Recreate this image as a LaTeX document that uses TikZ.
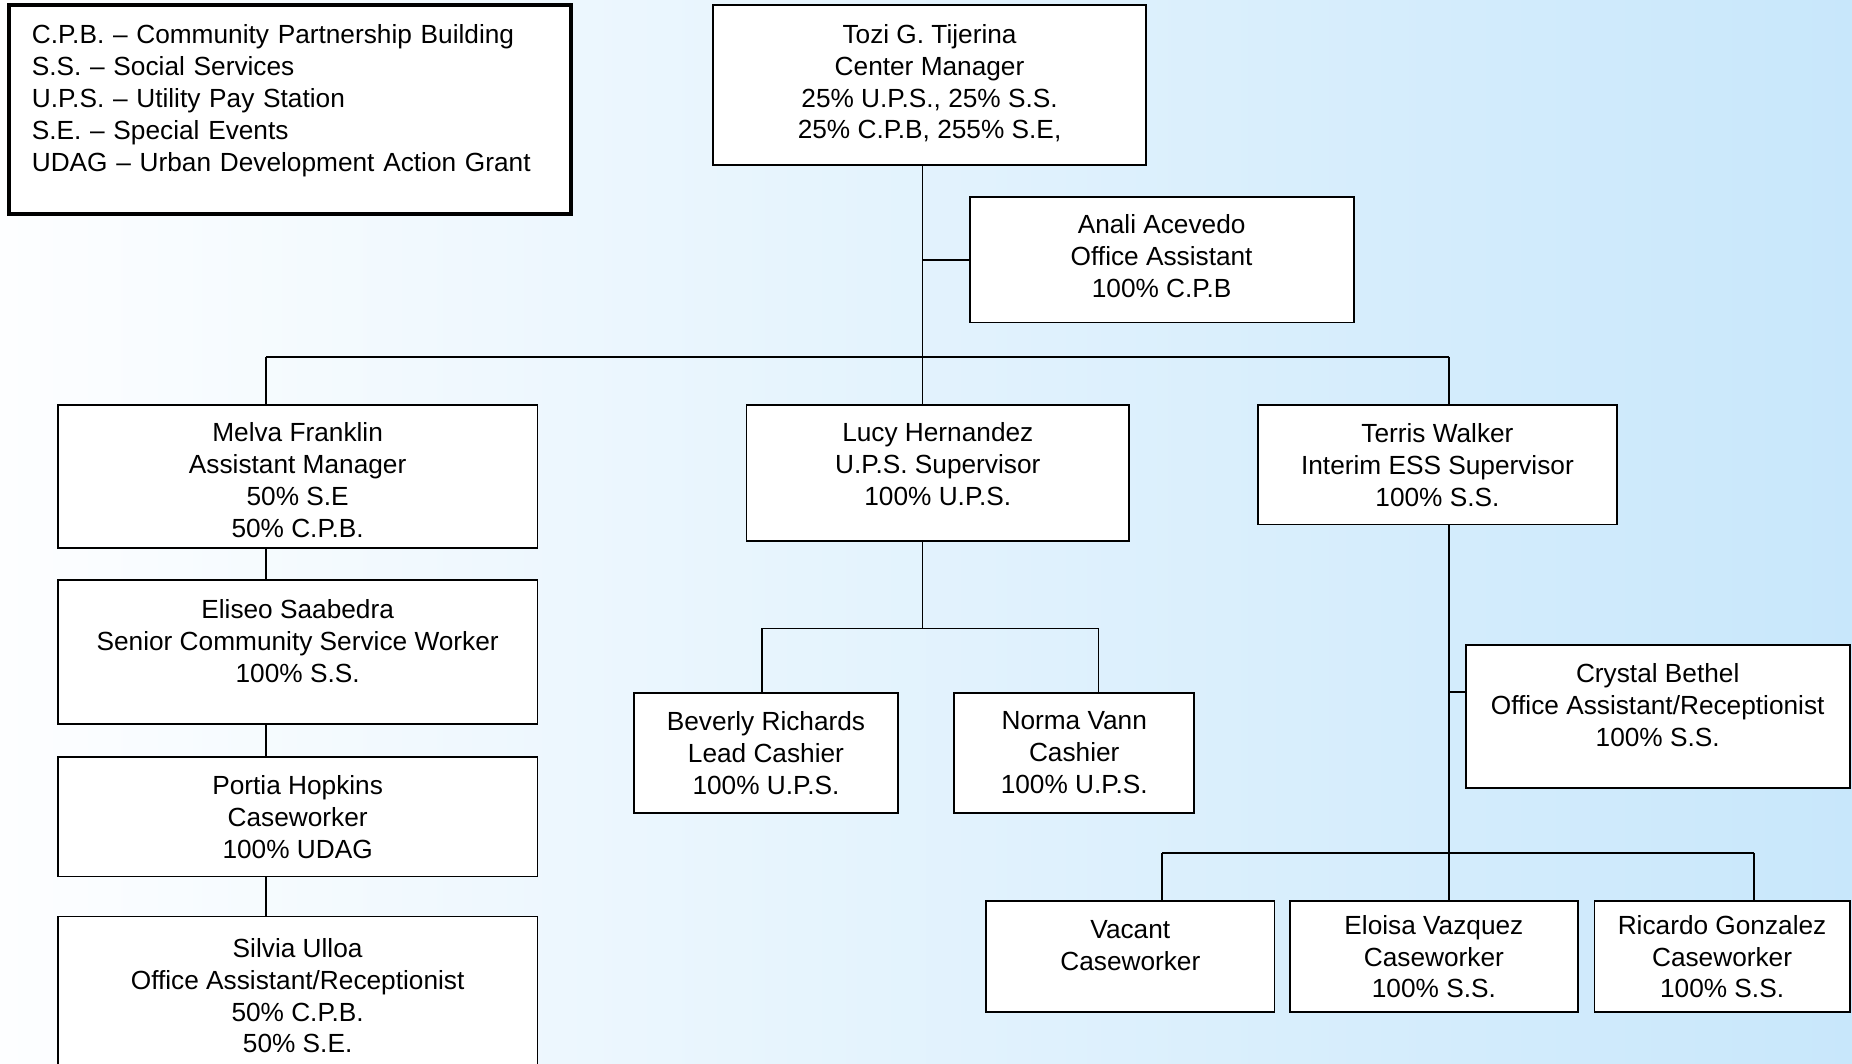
\documentclass[tikz,border=0pt]{standalone}
\usepackage{fontspec}
\setmainfont{Liberation Sans}
\usepackage{tikz}

\begin{document}
\begin{tikzpicture}[
  x=0.025cm, y=-0.025cm,
  box/.style={rectangle, draw, fill=white, line width=1.1pt, inner sep=0pt, align=center, font=\fontsize{15.8}{19.2}\selectfont},
  key/.style={rectangle, draw, fill=white, line width=2.4pt, inner xsep=0.475cm, inner ysep=0pt, align=left, font=\fontsize{15.8}{19.2}\selectfont},
  link/.style={line width=1pt}
]

% Background
\useasboundingbox (0,0) rectangle (1568,900);
\shade[left color={rgb,255:red,253;green,254;blue,255}, right color={rgb,255:red,200;green,231;blue,251}] (0,0) rectangle (1568,900);
\clip (0,0) rectangle (1568,900);

% Legend
\node[key, text width=10.925cm, minimum height=4.425cm] (L) at (245.5,92.5) {C.P.B. -- Community Partnership Building\\S.S. -- Social Services\\U.P.S. -- Utility Pay Station\\S.E. -- Special Events\\UDAG -- Urban Development Action Grant\\[-5.7pt]~};

% Nodes
\node[box, minimum width=9.15cm, minimum height=3.4cm] (TT) at (787,72) {Tozi G. Tijerina\\Center Manager\\25\% U.P.S., 25\% S.S.\\25\% C.P.B, 255\% S.E,\\[-15pt]~};
\node[box, minimum width=8.125cm, minimum height=2.65cm] (AA) at (983.5,220) {Anali Acevedo\\Office Assistant\\100\% C.P.B\\[-15pt]~};

\node[box, minimum width=10.15cm, minimum height=3.025cm] (MF) at (252,403.5) {Melva Franklin\\Assistant Manager\\50\% S.E\\50\% C.P.B.\\[-23pt]~};
\node[box, minimum width=10.15cm, minimum height=3.05cm] (ES) at (252,552) {Eliseo Saabedra\\Senior Community Service Worker\\100\% S.S.\\[-5.7pt]~};
\node[box, minimum width=10.15cm, minimum height=2.525cm] (PH) at (252,691.5) {Portia Hopkins\\Caseworker\\100\% UDAG};
\node[box, minimum width=10.15cm, minimum height=3.35cm] (SU) at (252,843) {Silvia Ulloa\\Office Assistant/Receptionist\\50\% C.P.B.\\50\% S.E.};

\node[box, minimum width=8.1cm, minimum height=2.875cm] (LH) at (794,400.5) {Lucy Hernandez\\U.P.S. Supervisor\\100\% U.P.S.\\[-8.5pt]~};
\node[box, minimum width=5.575cm, minimum height=2.525cm] (BR) at (648.5,637.5) {Beverly Richards\\Lead Cashier\\100\% U.P.S.};
\node[box, minimum width=5.075cm, minimum height=2.525cm] (NV) at (909.5,637.5) {Norma Vann\\Cashier\\100\% U.P.S.};

\node[box, minimum width=7.6cm, minimum height=2.525cm] (TW) at (1217,393.5) {Terris Walker\\Interim ESS Supervisor\\100\% S.S.};
\node[box, minimum width=8.125cm, minimum height=3.025cm] (CB) at (1403.5,606.5) {Crystal Bethel\\Office Assistant/Receptionist\\100\% S.S.\\[-5.7pt]~};
\node[box, minimum width=6.1cm, minimum height=2.35cm] (VC) at (957,810) {Vacant\\Caseworker\\[-5.7pt]~};
\node[box, minimum width=6.1cm, minimum height=2.35cm] (EV) at (1214,810) {Eloisa Vazquez\\Caseworker\\100\% S.S.};
\node[box, minimum width=5.4cm, minimum height=2.35cm] (RG) at (1458,810) {Ricardo Gonzalez\\Caseworker\\100\% S.S.};

% Junctions
\coordinate (busL) at (225,302);
\coordinate (busM) at (781,302);
\coordinate (busR) at (1227,302);
\coordinate (upsM) at (781,532);
\coordinate (upsL) at (645,532);
\coordinate (upsR) at (930,532);
\coordinate (ssA) at (1227,586);
\coordinate (ssM) at (1227,722);
\coordinate (ssL) at (984,722);
\coordinate (ssR) at (1485,722);

% Connectors
\draw[link] (TT.south -| busM) -- (busM);
\draw[link] (busM |- AA.west) -- (AA.west);
\draw[link] (busL) -- (busR);
\draw[link] (busL) -- (busL |- MF.north);
\draw[link] (busM) -- (busM |- LH.north);
\draw[link] (busR) -- (busR |- TW.north);

\draw[link] (MF.south -| busL) -- (busL |- ES.north);
\draw[link] (ES.south -| busL) -- (busL |- PH.north);
\draw[link] (PH.south -| busL) -- (busL |- SU.north);

\draw[link] (LH.south -| upsM) -- (upsM);
\draw[link] (upsL) -- (upsR);
\draw[link] (upsL) -- (upsL |- BR.north);
\draw[link] (upsR) -- (upsR |- NV.north);

\draw[link] (TW.south -| ssM) -- (ssM |- EV.north);
\draw[link] (ssA) -- (ssA -| CB.west);
\draw[link] (ssL) -- (ssR);
\draw[link] (ssL) -- (ssL |- VC.north);
\draw[link] (ssR) -- (ssR |- RG.north);

\end{tikzpicture}
\end{document}
